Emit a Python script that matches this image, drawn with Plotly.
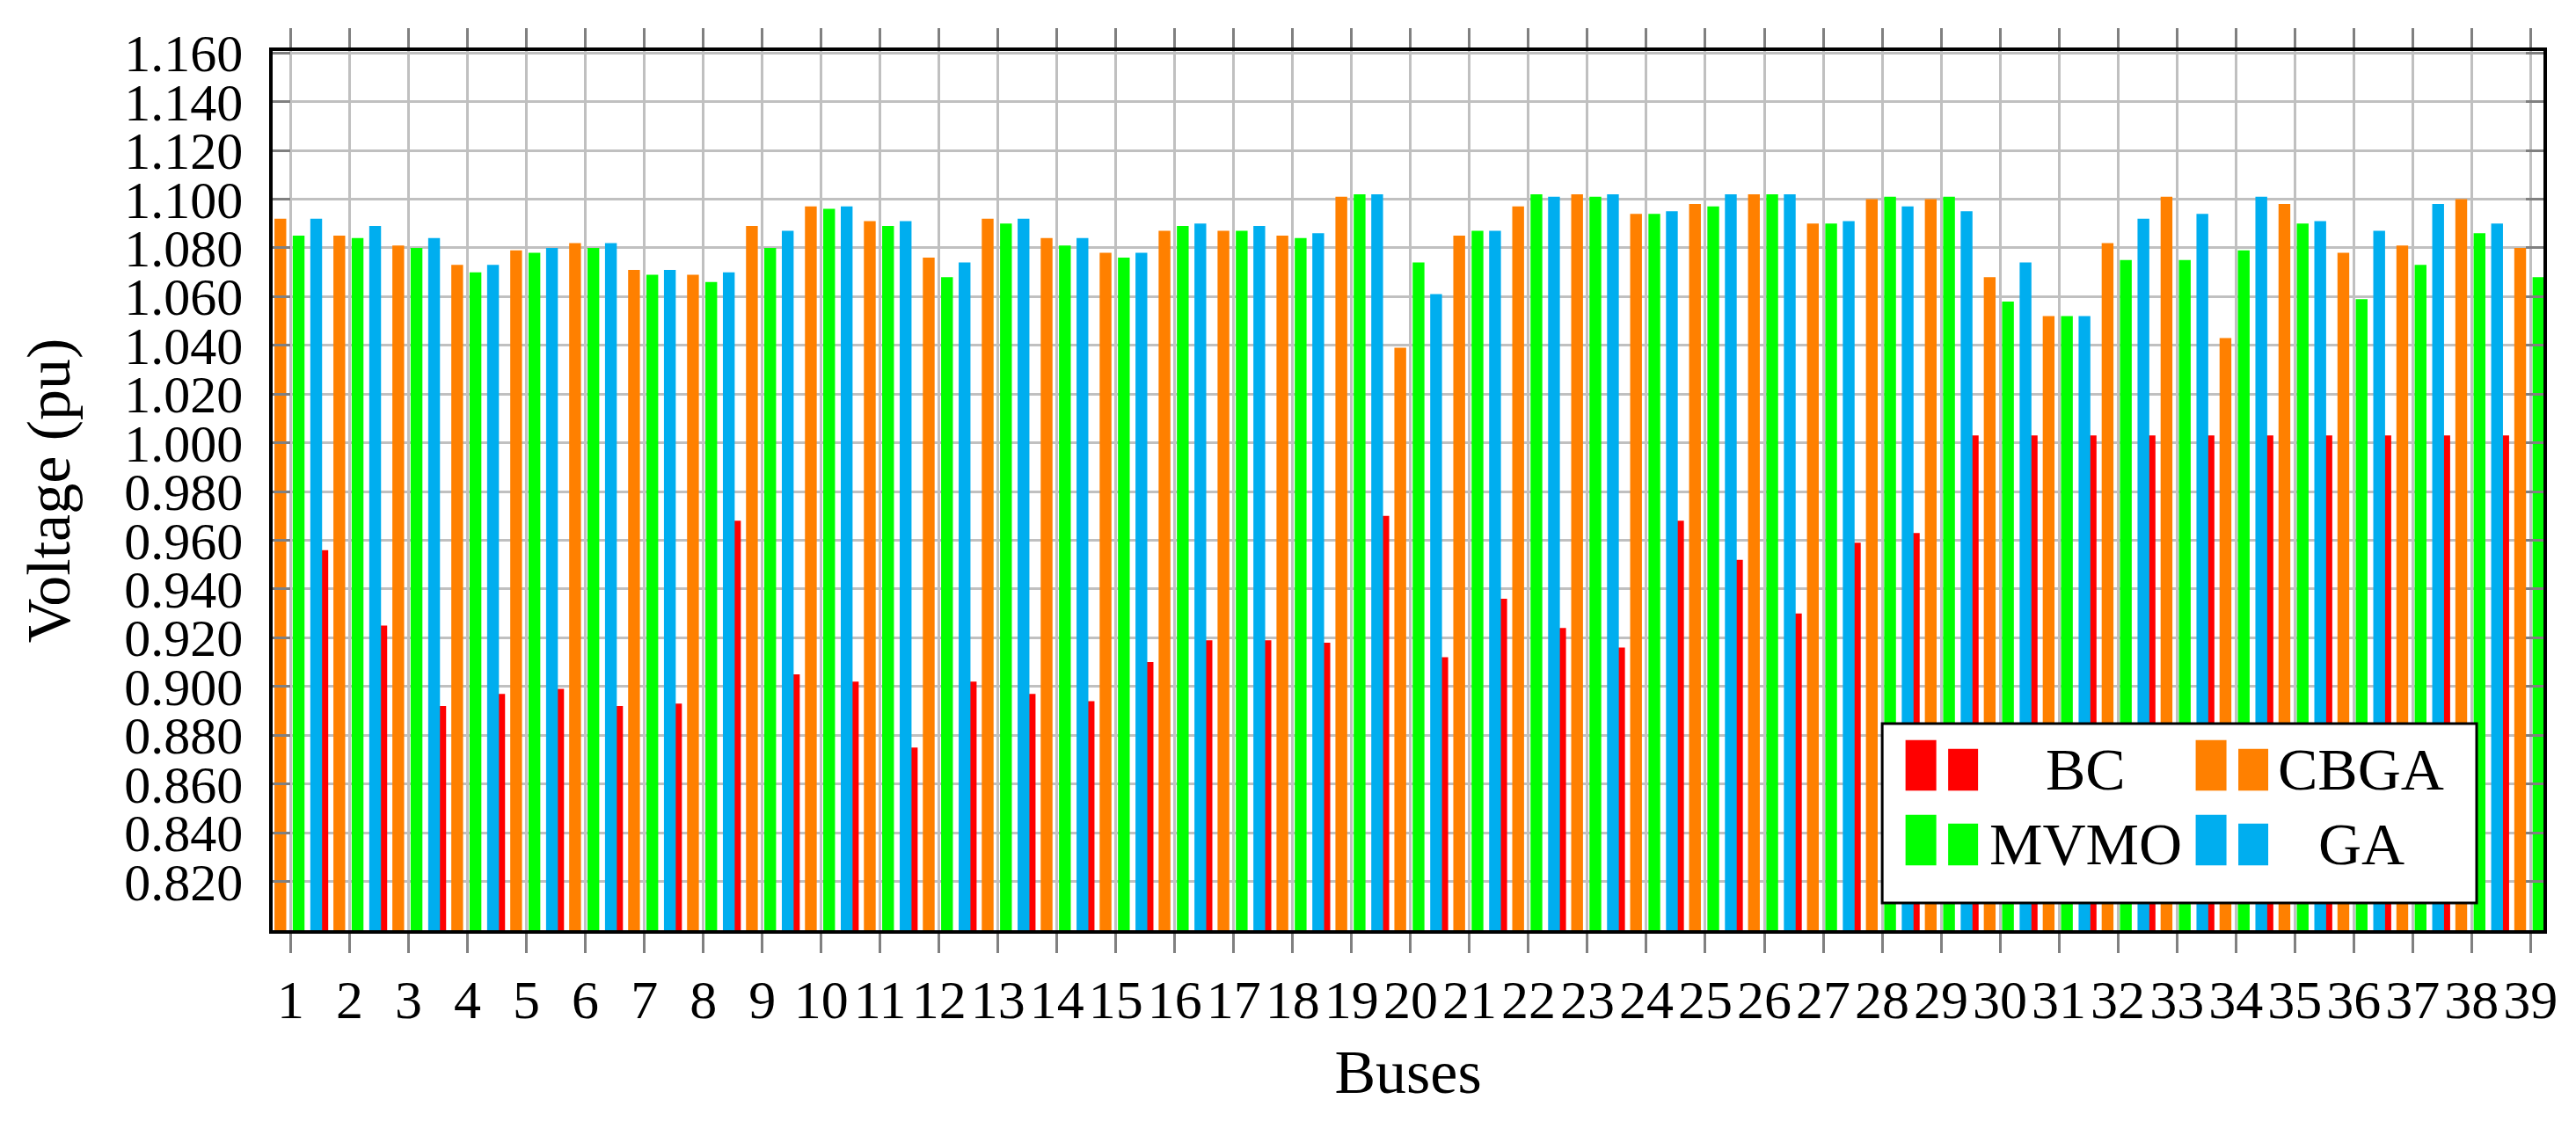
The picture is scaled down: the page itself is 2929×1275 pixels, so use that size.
import plotly.graph_objects as go

# ---------------- data ----------------
buses = list(range(1, 40))

bc = [0.956, 0.925, 0.892, 0.897, 0.899, 0.892, 0.893, 0.968, 0.905, 0.902,
      0.875, 0.902, 0.897, 0.894, 0.910, 0.919, 0.919, 0.918, 0.970, 0.912,
      0.936, 0.924, 0.916, 0.968, 0.952, 0.930, 0.959, 0.963, 1.003, 1.003,
      1.003, 1.003, 1.003, 1.003, 1.003, 1.003, 1.003, 1.003, None]

cbga = [1.092, 1.085, 1.081, 1.073, 1.079, 1.082, 1.071, 1.069, 1.089, 1.097,
        1.091, 1.076, 1.092, 1.084, 1.078, 1.087, 1.087, 1.085, 1.101, 1.039,
        1.085, 1.097, 1.102, 1.094, 1.098, 1.102, 1.090, 1.100, 1.100, 1.068,
        1.052, 1.082, 1.101, 1.043, 1.098, 1.078, 1.081, 1.100, 1.080]

mvmo = [1.085, 1.084, 1.080, 1.070, 1.078, 1.080, 1.069, 1.066, 1.080, 1.096,
        1.089, 1.068, 1.090, 1.081, 1.076, 1.089, 1.087, 1.084, 1.102, 1.074,
        1.087, 1.102, 1.101, 1.094, 1.097, 1.102, 1.090, 1.101, 1.101, 1.058,
        1.052, 1.075, 1.075, 1.079, 1.090, 1.059, 1.073, 1.086, 1.068]

ga = [1.092, 1.089, 1.084, 1.073, 1.080, 1.082, 1.071, 1.070, 1.087, 1.097,
      1.091, 1.074, 1.092, 1.084, 1.078, 1.090, 1.089, 1.086, 1.102, 1.061,
      1.087, 1.101, 1.102, 1.095, 1.102, 1.102, 1.091, 1.097, 1.095, 1.074,
      1.052, 1.092, 1.094, 1.101, 1.091, 1.087, 1.098, 1.090, None]

y_tick_values = [0.82, 0.84, 0.86, 0.88, 0.90, 0.92, 0.94, 0.96, 0.98, 1.00,
                 1.02, 1.04, 1.06, 1.08, 1.10, 1.12, 1.14, 1.16]
y_tick_labels = ["0.820", "0.840", "0.860", "0.880", "0.900", "0.920", "0.940",
                 "0.960", "0.980", "1.000", "1.020", "1.040", "1.060", "1.080",
                 "1.100", "1.120", "1.140", "1.160"]
x_tick_labels = [str(b) for b in buses]

# ---------------- styling ----------------
RED = "#FF0000"
ORANGE = "#FF8000"
GREEN = "#00FF00"
BLUE = "#00AEEF"
FONT = "Liberation Serif"

W, H = 2929, 1275
L, R, T, B = 309.5, 37, 58, 217
PW = W - L - R
PH = H - T - B

BAR_W = 0.2
fig = go.Figure()
# drawing order: BC first so GA bars sit on top of it
fig.add_trace(go.Bar(x=buses, y=bc, name="BC", marker=dict(color=RED, line_width=0),
                     width=BAR_W, offset=0.437))
fig.add_trace(go.Bar(x=buses, y=cbga, name="CBGA", marker=dict(color=ORANGE, line_width=0),
                     width=BAR_W, offset=-0.275))
fig.add_trace(go.Bar(x=buses, y=mvmo, name="MVMO", marker=dict(color=GREEN, line_width=0),
                     width=BAR_W, offset=0.035))
fig.add_trace(go.Bar(x=buses, y=ga, name="GA", marker=dict(color=BLUE, line_width=0),
                     width=BAR_W, offset=0.333))


def px_x(p):
    return (p - L) / PW


def px_y(p):
    return (H - B - p) / PH


shapes = []
annotations = []
# legend box
shapes.append(dict(type="rect", xref="paper", yref="paper",
                   x0=px_x(2140), x1=px_x(2816), y0=px_y(1027), y1=px_y(823),
                   line=dict(color="black", width=3), fillcolor="white", layer="above"))
legend_items = [
    ("BC", RED, 2166.5, 899.3, 2371),
    ("CBGA", ORANGE, 2496.5, 899.3, 2684),
    ("MVMO", GREEN, 2166.5, 984.3, 2371),
    ("GA", BLUE, 2496.5, 984.3, 2685),
]
for name, col, x0, ybot, tx in legend_items:
    shapes.append(dict(type="rect", xref="paper", yref="paper",
                       x0=px_x(x0), x1=px_x(x0 + 35), y0=px_y(ybot), y1=px_y(ybot - 57.6),
                       line=dict(width=0), fillcolor=col, layer="above"))
    shapes.append(dict(type="rect", xref="paper", yref="paper",
                       x0=px_x(x0 + 48.5), x1=px_x(x0 + 82.5), y0=px_y(ybot), y1=px_y(ybot - 47.6),
                       line=dict(width=0), fillcolor=col, layer="above"))
    annotations.append(dict(text=name, xref="paper", yref="paper", x=px_x(tx), y=px_y(ybot - 24),
                            xanchor="center", yanchor="middle", showarrow=False,
                            font=dict(family=FONT, size=68, color="black")))

fig.update_layout(
    width=W, height=H,
    margin=dict(l=L, r=R, t=T, b=B, pad=0),
    paper_bgcolor="white", plot_bgcolor="white",
    barmode="overlay",
    showlegend=False,
    font=dict(family=FONT, size=62, color="black"),
    shapes=shapes, annotations=annotations,
)

fig.update_xaxes(
    range=[0.694, 39.22],
    tickmode="array", tickvals=buses, ticktext=x_tick_labels,
    ticks="outside", ticklen=22, tickwidth=3, tickcolor="#808080",
    showgrid=True, gridcolor="#C0C0C0", gridwidth=3,
    showline=True, linecolor="black", linewidth=3.5, mirror="ticks",
    layer="below traces",
    tickfont=dict(family=FONT, size=62, color="black"),
    title=dict(text="Buses", font=dict(family=FONT, size=70, color="black"), standoff=25),
    zeroline=False,
)
fig.update_yaxes(
    range=[0.80, 1.1608],
    tickmode="array", tickvals=y_tick_values, ticktext=y_tick_labels,
    ticks="inside", ticklen=20, tickwidth=3, tickcolor="#808080",
    showgrid=True, gridcolor="#C0C0C0", gridwidth=3,
    showline=True, linecolor="black", linewidth=3.5, mirror="ticks",
    tickfont=dict(family=FONT, size=60, color="black"),
    ticklabelstandoff=18,
    title=dict(text="Voltage (pu)", font=dict(family=FONT, size=70, color="black"), standoff=40),
    zeroline=False,
)

fig.write_html("out.html", config={"displayModeBar": False},
               post_script="document.body.style.margin='0';")
